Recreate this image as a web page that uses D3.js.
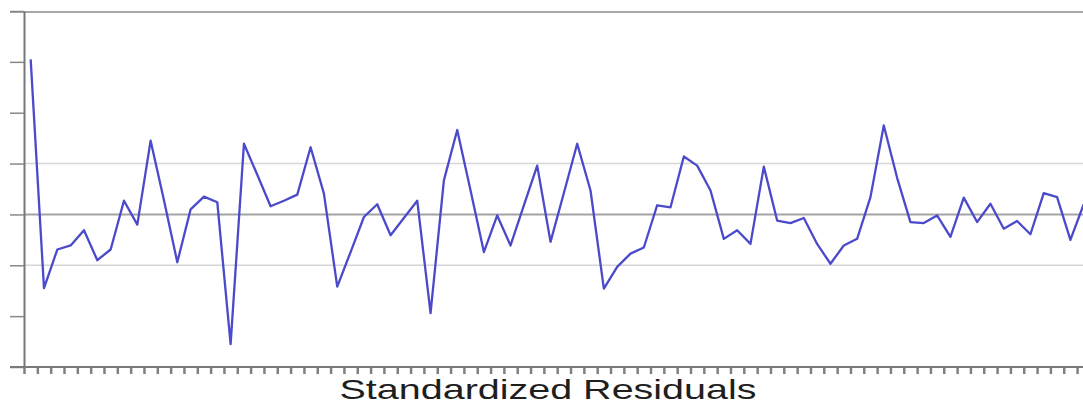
<!DOCTYPE html>
<html>
<head>
<meta charset="utf-8">
<style>
    body { margin: 0; background: #fff; }
    svg { display: block; }
</style>
</head>
<body>
<svg class="chart"></svg>
<script src="https://d3js.org/d3.v7.min.js" charset="utf-8"></script>
<script>
    var residuals = [
        3.05, -1.45, -0.69, -0.61, -0.31, -0.90, -0.69, 0.27, -0.20, 1.45,
        0.28, -0.94, 0.10, 0.35, 0.24, -2.55, 1.39, 0.78, 0.16, 0.27,
        0.39, 1.32, 0.41, -1.42, -0.74, -0.05, 0.20, -0.41, -0.07, 0.27,
        -1.94, 0.67, 1.66, 0.47, -0.74, -0.02, -0.61, 0.18, 0.96, -0.54,
        0.42, 1.39, 0.47, -1.46, -1.03, -0.77, -0.65, 0.18, 0.14, 1.14,
        0.96, 0.47, -0.48, -0.31, -0.58, 0.94, -0.12, -0.17, -0.07, -0.58,
        -0.97, -0.61, -0.48, 0.34, 1.75, 0.72, -0.15, -0.17, -0.02, -0.44,
        0.33, -0.15, 0.21, -0.28, -0.13, -0.39, 0.42, 0.34, -0.50, 0.20
    ];
    var yTicks = [-3, -2, -1, 0, 1, 2, 3, 4];
    var gridValues = [-1, 1];
    var title = 'Standardized Residuals';

    var width = 1083,
        height = 405,
        plotLeft = 24,
        plotBottom = 367,
        plotTop = 11,
        step = 13.33;

    var svg = d3.select('.chart')
        .attr('width', width)
        .attr('height', height);

    var x = d3.scaleLinear()
        .domain([0, residuals.length])
        .range([plotLeft, plotLeft + residuals.length * step]);

    var y = d3.scaleLinear()
        .domain([-3, 4])
        .range([plotBottom, plotTop]);

    // light grid at +/-1
    svg.append('g')
        .selectAll('line')
        .data(gridValues)
        .enter()
        .append('line')
        .attr('x1', plotLeft).attr('x2', width)
        .attr('y1', function (d) { return y(d); })
        .attr('y2', function (d) { return y(d); })
        .attr('stroke', '#d6d6d6')
        .attr('stroke-width', 1.5);

    // zero line
    svg.append('line')
        .attr('x1', plotLeft).attr('x2', width)
        .attr('y1', y(0)).attr('y2', y(0))
        .attr('stroke', '#a3a3a3')
        .attr('stroke-width', 2);

    // top border
    svg.append('line')
        .attr('x1', 10).attr('x2', width)
        .attr('y1', y(4) + 1).attr('y2', y(4) + 1)
        .attr('stroke', '#a8a8a8')
        .attr('stroke-width', 2);

    var yAxis = d3.axisLeft(y)
        .tickValues(yTicks)
        .tickFormat('')
        .tickSize(14)
        .tickSizeOuter(0);

    svg.append('g')
        .attr('class', 'y axis')
        .attr('transform', 'translate(' + plotLeft + ',0)')
        .call(yAxis)
        .call(function (g) {
            g.select('.domain').attr('stroke', '#777').attr('stroke-width', 2);
            g.selectAll('.tick line').attr('stroke', '#888').attr('stroke-width', 1.5);
        });

    var xAxis = d3.axisBottom(x)
        .tickValues(d3.range(0, residuals.length + 1))
        .tickFormat('')
        .tickSize(7)
        .tickSizeOuter(0);

    svg.append('g')
        .attr('class', 'x axis')
        .attr('transform', 'translate(0,' + plotBottom + ')')
        .call(xAxis)
        .call(function (g) {
            g.select('.domain').remove();
            g.selectAll('.tick line').attr('stroke', '#808080').attr('stroke-width', 2.5);
        });

    svg.append('line')
        .attr('x1', 10).attr('x2', width)
        .attr('y1', plotBottom).attr('y2', plotBottom)
        .attr('stroke', '#7a7a7a')
        .attr('stroke-width', 2);

    var line = d3.line()
        .x(function (d, i) { return x(i + 0.5); })
        .y(function (d) { return y(d); });

    svg.append('path')
        .datum(residuals)
        .attr('d', line)
        .attr('fill', 'none')
        .attr('stroke', '#4a4acb')
        .attr('stroke-width', 2.3)
        .attr('stroke-linejoin', 'round');

    svg.append('text')
        .attr('x', 548)
        .attr('y', 399)
        .attr('text-anchor', 'middle')
        .attr('font-family', 'Liberation Sans, Arial, sans-serif')
        .attr('font-size', 28.5)
        .attr('textLength', 417)
        .attr('lengthAdjust', 'spacingAndGlyphs')
        .attr('fill', '#1e1e1e')
        .text(title);
</script>
</body>
</html>
